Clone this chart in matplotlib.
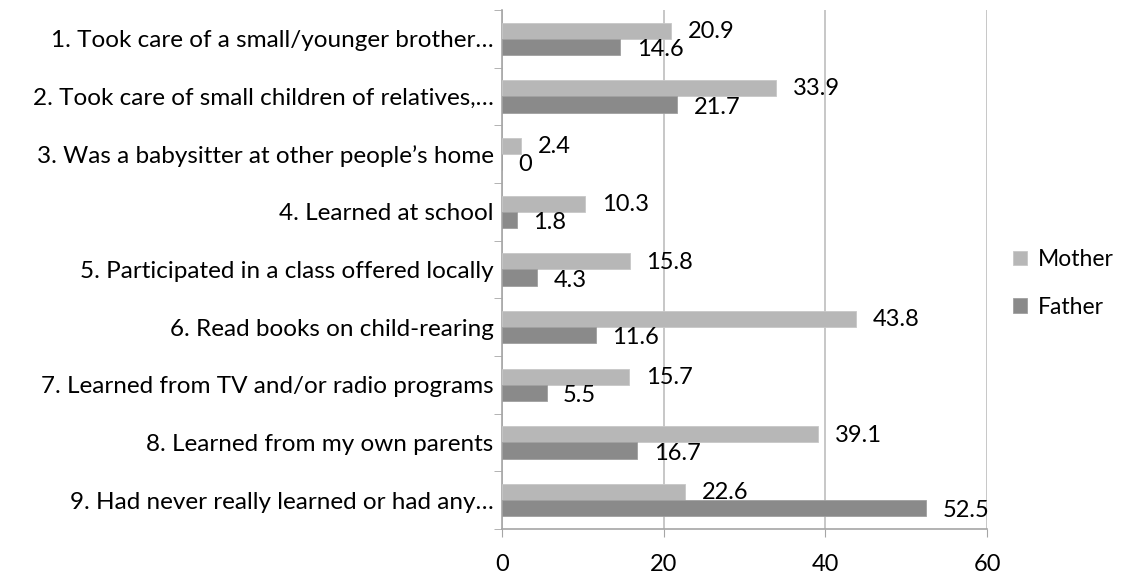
import matplotlib.pyplot as plt
import numpy as np

categories = [
    "1. Took care of a small/younger brother…",
    "2. Took care of small children of relatives,…",
    "3. Was a babysitter at other people’s home",
    "4. Learned at school",
    "5. Participated in a class offered locally",
    "6. Read books on child-rearing",
    "7. Learned from TV and/or radio programs",
    "8. Learned from my own parents",
    "9. Had never really learned or had any…",
]
mother = [20.9, 33.9, 2.4, 10.3, 15.8, 43.8, 15.7, 39.1, 22.6]
father = [14.6, 21.7, 0, 1.8, 4.3, 11.6, 5.5, 16.7, 52.5]

plt.rcParams['font.family'] = ['Lato', 'DejaVu Sans']

fig = plt.figure(figsize=(11.32, 5.79), dpi=100)
ax = fig.add_axes([0.4435, 0.0864, 0.872 - 0.4435, 0.983 - 0.0864])

n = len(categories)
y = np.arange(n)
h = 0.28
c_m = '#b7b7b7'
c_f = '#8a8a8a'

bm = ax.barh(y - h / 2, mother, height=h, color=c_m, edgecolor='#c8c8c8', linewidth=0.6, label='Mother', zorder=3)
bf = ax.barh(y + h / 2, father, height=h, color=c_f, edgecolor='#a0a0a0', linewidth=0.6, label='Father', zorder=3)

for yi, v in zip(y, mother):
    ax.annotate(f"{v:g}", (v, yi - h / 2), xytext=(12, -0.5), textcoords='offset points',
                va='center', ha='left', fontsize=17, color='black', zorder=4)
for yi, v in zip(y, father):
    ax.annotate(f"{v:g}", (v, yi + h / 2), xytext=(12, -2), textcoords='offset points',
                va='center', ha='left', fontsize=17, color='black', zorder=4)

ax.set_ylim(n - 0.5, -0.5)
ax.set_xlim(0, 60)
ax.set_xticks([0, 20, 40, 60])
ax.tick_params(axis='x', labelsize=17, length=6, color='#a6a6a6', pad=12)
ax.set_yticks(y)
ax.set_yticklabels(categories, fontsize=17.5)
ax.tick_params(axis='y', which='major', length=0, pad=6)
ax.set_yticks(np.arange(n + 1) - 0.5, minor=True)
ax.tick_params(axis='y', which='minor', length=6, color='#a6a6a6')

ax.grid(axis='x', color='#bebebe', linewidth=1.2, zorder=0)
for s in ['top', 'right']:
    ax.spines[s].set_visible(False)
for s in ['left', 'bottom']:
    ax.spines[s].set_color('#a6a6a6')
    ax.spines[s].set_linewidth(1.2)

ax.legend(loc='center left', bbox_to_anchor=(1.02, 0.473), frameon=False, fontsize=16.5,
          handlelength=0.6, handleheight=0.6, handletextpad=0.5, labelspacing=1.15,
          borderaxespad=0.3)

fig.savefig('out.png', dpi=100)
